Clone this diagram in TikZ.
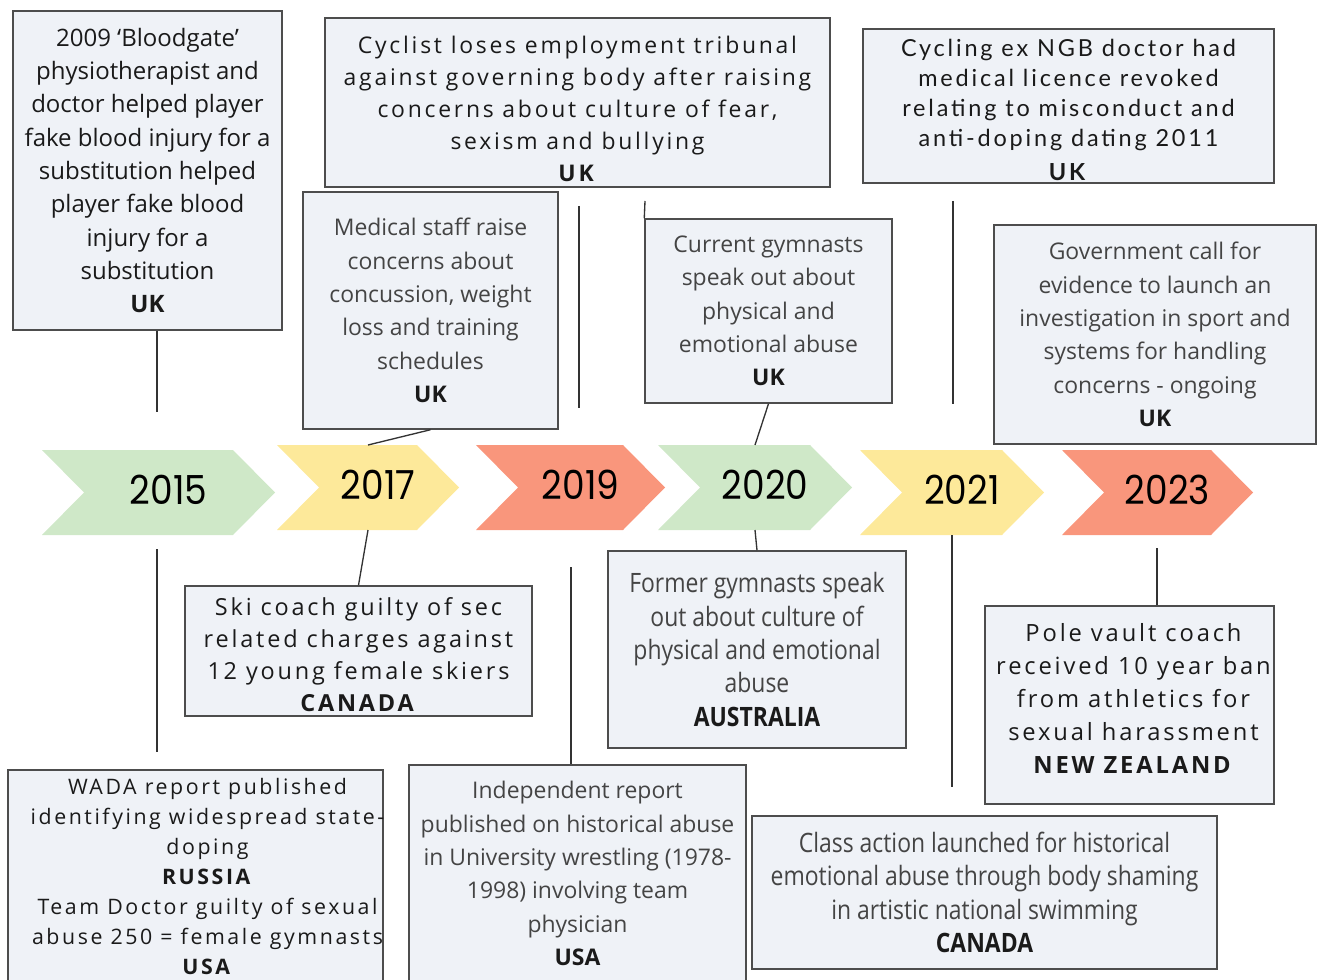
\documentclass[tikz,border=0pt]{standalone}
\usepackage{fontspec}
\setmainfont{Open Sans}
\newfontfamily\spaced[LetterSpace=12]{Open Sans}
\newfontfamily\narrow[FakeStretch=0.86]{Open Sans}
\newfontfamily\latospaced[LetterSpace=12]{Lato}
\newfontfamily\yearfont[FakeStretch=0.9]{Poppins}

\definecolor{boxfill}{HTML}{EFF2F7}
\definecolor{boxline}{HTML}{4D4D4D}
\definecolor{linec}{HTML}{333333}
\definecolor{ink}{HTML}{1A1A1A}
\definecolor{softink}{HTML}{444444}
\definecolor{chgreen}{HTML}{CFE8C8}
\definecolor{chyellow}{HTML}{FDE99A}
\definecolor{chsalmon}{HTML}{F9967C}

\tikzset{
  evt/.style={draw=boxline, fill=boxfill, line width=1.1pt, align=center,
    inner sep=0pt, text=ink},
  wh/.style 2 args={minimum width={#1*0.75pt}, minimum height={#2*0.75pt}},
  conn/.style={draw=linec, line width=1pt},
  yr/.style={font=\yearfont\fontsize{30}{30}\selectfont, text=black, inner sep=0pt},
  plain/.style={font=\fontsize{18}{25}\selectfont},
  soft/.style={font=\fontsize{17.2}{25}\selectfont, text=softink},
  tracked/.style 2 args={font=\spaced\fontsize{#1}{#2}\selectfont},
  latotracked/.style={font=\latospaced\fontsize{17.6}{22.5}\selectfont},
  condensed/.style={font=\narrow\fontsize{20}{25}\selectfont, text=softink},
}

% chevron: name, left x, right x, top y, colour, year
\newcommand\chevron[6]{%
  \fill[#5] (#2,#4) -- ({#3-42},#4) -- (#3,{#4+42.5}) -- ({#3-42},{#4+85})
     -- (#2,{#4+85}) -- ({#2+42},{#4+42.5}) -- cycle;
  \coordinate (#1top) at ({(#2+#3)/2},#4);
  \coordinate (#1bot) at ({(#2+#3)/2},{#4+85});
  \node[yr] (#1) at ({(#2+#3)/2+10},{#4+40}) {#6};
}

\begin{document}
\begin{tikzpicture}[x=0.75pt,y=-0.75pt]
\useasboundingbox (0,0) rectangle (1324,980);

% timeline
\chevron{y15}{42}{275}{450}{chgreen}{2015}
\chevron{y17}{277}{459}{445}{chyellow}{2017}
\chevron{y19}{476}{665}{445}{chsalmon}{2019}
\chevron{y20}{658}{852}{445}{chgreen}{2020}
\chevron{y21}{860}{1044}{450}{chyellow}{2021}
\chevron{y23}{1062}{1253}{450}{chsalmon}{2023}

% events above the timeline
\node[evt, wh={269}{319}, plain] (b1) at (147.5,170.5)
  {2009 ‘Bloodgate’\\ physiotherapist and\\ doctor helped player\\ fake blood injury for a\\
   substitution helped\\ player fake blood\\ injury for a\\ substitution\\ \textbf{UK}};

\node[evt, wh={505}{169}, tracked={17.2pt}{24pt}] (b2) at (577.5,102.5)
  {\rule{0pt}{22pt}Cyclist loses employment tribunal\\ against governing body after raising\\
   concerns about culture of fear,\\ sexism and bullying\\ \textbf{UK}};

\node[evt, wh={255}{237}, soft] (b3) at (430.5,310.5)
  {Medical staff raise\\ concerns about\\ concussion, weight\\ loss and training\\ schedules\\
   \textbf{\color{ink}UK}};

\node[evt, wh={247}{184}, soft] (b4) at (768.5,311)
  {Current gymnasts\\ speak out about\\ physical and\\ emotional abuse\\ \textbf{\color{ink}UK}};

\node[evt, wh={411}{154}, latotracked] (b5) at (1068.5,106)
  {\rule{0pt}{19pt}Cycling ex NGB doctor had\\ medical licence revoked\\ relating to misconduct and\\
   anti-doping dating 2011\\[3pt] \textbf{UK}};

\node[evt, wh={322}{219}, soft] (b6) at (1155,334.5)
  {Government call for\\ evidence to launch an\\ investigation in sport and\\
   systems for handling\\ concerns - ongoing\\ \textbf{\color{ink}UK}};

% events below the timeline
\node[evt, wh={347}{130}, tracked={17.6pt}{24.2pt}] (b7) at (358.5,651)
  {\rule{0pt}{18.8pt}Ski coach guilty of sec\\ related charges against\\ 12 young female skiers\\
   \textbf{CANADA}};

\node[evt, wh={298}{197}, condensed] (b8) at (757,649.5)
  {Former gymnasts speak\\ out about culture of\\ physical and emotional\\ abuse\\
   \textbf{\color{ink}AUSTRALIA}};

\node[evt, wh={289}{198}, tracked={17.8pt}{24.75pt}] (b9) at (1129.5,705)
  {\makebox[200pt]{\hspace{6pt}\begin{tabular}{@{}c@{}}
   Pole vault coach\\ received 10 year ban\\ from athletics for\\ sexual harassment\\
   \textbf{NEW ZEALAND}\rule[-13.5pt]{0pt}{0pt}\end{tabular}}};

\node[evt, wh={375}{216}, tracked={16pt}{22.5pt}] (b10) at (195.5,878)
  {\makebox[260pt]{\begin{tabular}{@{\hspace{18pt}}c@{}}
   WADA report published\\ identifying widespread state-\\ doping\\ \textbf{RUSSIA}\\
   Team Doctor guilty of sexual\\ abuse 250 = female gymnasts\\ \textbf{USA}
   \end{tabular}}};

\node[evt, wh={337}{217}, soft] (b11) at (577.5,873.5)
  {Independent report\\ published on historical abuse\\ in University wrestling (1978-\\
   1998) involving team\\ physician\\ \textbf{\color{ink}USA}};

\node[evt, wh={465}{153}, condensed] (b12) at (984.5,892.5)
  {Class action launched for historical\\ emotional abuse through body shaming\\
   in artistic national swimming\\ \textbf{\color{ink}CANADA}};

% free ends of the stems
\coordinate (e1) at (157,412);
\coordinate (e2a) at (579,206);
\coordinate (e2b) at (579,408);
\coordinate (e4) at (645,201);
\coordinate (e5a) at (953,201);
\coordinate (e5b) at (953,404);
\coordinate (e10a) at (157,549);
\coordinate (e10b) at (157,752);
\coordinate (e11) at (571,567);
\coordinate (e12) at (952,787);
\coordinate (e9) at (1157,548);

% stems
\draw[conn] (b1.south -| e1) -- (e1);
\draw[conn] (e2a) -- (e2b);
\draw[conn] (b3.south) -- (y17top);
\draw[conn] (b4.north west) -- (e4);
\draw[conn] (b4.south) -- (y20top);
\draw[conn] (e5a) -- (e5b);
\draw[conn] (y17bot) -- (b7.north);
\draw[conn] (y20bot) -- (b8.north);
\draw[conn] (e10a) -- (e10b);
\draw[conn] (e11) -- (e11 |- b11.north);
\draw[conn] (y21bot) -- (e12);
\draw[conn] (e9) -- (e9 |- b9.north);
\end{tikzpicture}
\end{document}
